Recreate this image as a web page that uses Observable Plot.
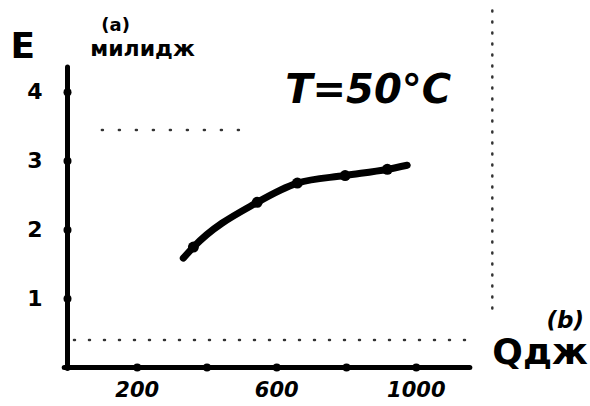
<!DOCTYPE html>
<html><head><meta charset="utf-8">
<script src="https://cdn.jsdelivr.net/npm/d3@7"></script>
<script src="https://cdn.jsdelivr.net/npm/@observablehq/plot@0.6"></script>
<style>
html,body{margin:0;padding:0;background:#fff;}
svg{display:block;}
</style>
</head><body>
<div id="chart"></div>
<script>
// curve through the measured points (Q in J, E in mJ)
const qValues = [332, 361, 544, 659, 796, 917, 974];
const eValues = [1.59, 1.75, 2.40, 2.68, 2.79, 2.88, 2.94];
// marked points on the curve
const markQ = [361, 544, 659, 796, 917];
const markE = [1.75, 2.40, 2.68, 2.79, 2.88];
// axis ticks
const xTicks = [200, 400, 600, 800, 1000];
const xTickLabels = [200, 600, 1000];
const yTicks = [1, 2, 3, 4];
// annotations (upright and italic)
const uprightLabels = [
  {x: -128, y: 4.66, text: "E", size: 36},
  {x: 138, y: 4.98, text: "(a)", size: 18},
  {x: 215, y: 4.63, text: "милидж", size: 22},
  {x: 1355, y: 0.22, text: "Qдж", size: 36}
];
const italicLabels = [
  {x: 862, y: 4.03, text: "T=50°C", size: 40},
  {x: 1427, y: 0.68, text: "(b)", size: 23}
];

const curve = qValues.map((q, i) => ({q, e: eValues[i]}));
const marks = markQ.map((q, i) => ({q, e: markE[i]}));

const chart = Plot.plot({
  width: 590,
  height: 406,
  marginLeft: 67,
  marginRight: 94,
  marginTop: 67,
  marginBottom: 39,
  style: {fontFamily: "DejaVu Sans", background: "#fff", color: "#000", overflow: "visible"},
  x: {domain: [0, 1230]},
  y: {domain: [0, 4.36]},
  marks: [
    // faint dotted scan guides
    Plot.ruleY([0.4], {x1: 20, x2: 1180, stroke: "#000", strokeWidth: 2.5, strokeDasharray: "1 14", strokeLinecap: "round", strokeOpacity: 0.8}),
    Plot.ruleX([1218], {y1: 0.85, y2: 5.3, stroke: "#000", strokeWidth: 2.5, strokeDasharray: "1 10", strokeLinecap: "round", strokeOpacity: 0.8}),
    Plot.ruleY([3.45], {x1: 100, x2: 520, stroke: "#000", strokeWidth: 2.5, strokeDasharray: "1 16", strokeLinecap: "round", strokeOpacity: 0.8}),
    // axes
    Plot.ruleY([0], {x1: -8, x2: 1155, stroke: "#000", strokeWidth: 5, strokeLinecap: "round"}),
    Plot.ruleX([0], {y1: -0.02, y2: 4.36, stroke: "#000", strokeWidth: 5, strokeLinecap: "round"}),
    Plot.dot(xTicks, {x: d => d, y: 0, r: 4, fill: "#000"}),
    Plot.dot(yTicks, {x: 0, y: d => d, r: 4, fill: "#000"}),
    Plot.axisX(xTickLabels, {tickSize: 0, tickPadding: 15, tickFormat: d => String(d), fontSize: 21, fontWeight: "900", fontStyle: "italic"}),
    Plot.axisY(yTicks, {tickSize: 0, tickPadding: 25, tickFormat: d => String(d), fontSize: 22, fontWeight: "900", label: null}),
    // curve
    Plot.line(curve, {x: "q", y: "e", curve: "monotone-x", stroke: "#000", strokeWidth: 7, strokeLinecap: "round"}),
    Plot.dot(marks, {x: "q", y: "e", r: 5.5, fill: "#000"}),
    // annotations
    Plot.text(uprightLabels, {x: "x", y: "y", text: "text", fontSize: d => d.size, fontWeight: "900", fill: "#000", textAnchor: "middle", lineAnchor: "middle"}),
    Plot.text(italicLabels, {x: "x", y: "y", text: "text", fontSize: d => d.size, fontWeight: "900", fontStyle: "italic", fill: "#000", textAnchor: "middle", lineAnchor: "middle"})
  ]
});
document.getElementById("chart").append(chart);
</script>
</body></html>
